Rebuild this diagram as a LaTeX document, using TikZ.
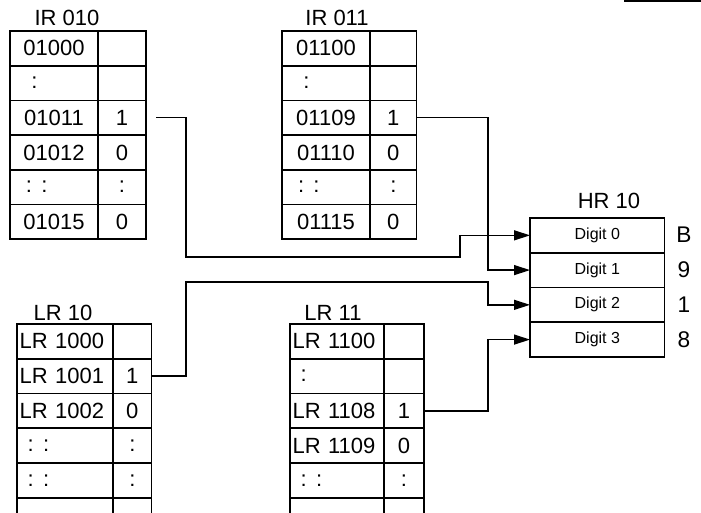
\documentclass[tikz,border=0pt]{standalone}
\usepackage{fontspec}
\setmainfont{Liberation Sans}
\usetikzlibrary{arrows.meta}
\begin{document}
\begin{tikzpicture}[x=0.75pt,y=-0.75pt,
	cell/.style={draw, line width=1.2pt, anchor=north west, minimum height=26pt, inner ysep=0pt, outer sep=0pt},
	wire/.style={line width=1pt},
	arr/.style={wire, -{Triangle[length=12pt,width=7.5pt]}},
	title/.style={font=\fontsize{16.5}{18}\selectfont}]
	\useasboundingbox (0,0) rectangle (701,512);
	\fontsize{16.5}{18}\selectfont
	
	% IR 010
	\node[title] (ir10) at (67,18) {IR 010};
	\foreach \l/\r/\al [count=\i] in {01000/{}/center, {\hspace*{8pt}:}/{}/left, 01011/1/center, 01012/0/center, {\hspace*{4pt}:\hspace{7pt}:}/:/left, 01015/0/center}{
		\node[cell, text width=50pt, inner xsep=8pt, align=\al] (ir10l\i) at (10,{31+(\i-1)*34.7}) {\l};
		\node[cell, minimum width=36pt] (ir10r\i) at (98,{31+(\i-1)*34.7}) {\r};
	}
	
	% IR 011
	\node[title] (ir11) at (337,18) {IR 011};
	\foreach \l/\r/\al [count=\i] in {01100/{}/center, {\hspace*{8pt}:}/{}/left, 01109/1/center, 01110/0/center, {\hspace*{4pt}:\hspace{7pt}:}/:/left, 01115/0/center}{
		\node[cell, text width=50pt, inner xsep=8pt, align=\al] (ir11l\i) at (282,{31+(\i-1)*34.7}) {\l};
		\node[cell, minimum width=35pt] (ir11r\i) at (370,{31+(\i-1)*34.7}) {\r};
	}
	
	% HR 10
	\node[title] (hr) at (609,201) {HR 10};
	\foreach \d/\v in {0/B,1/9,2/1,3/8}{
		\node[cell, minimum width=101pt, font=\fontsize{12}{14}\selectfont] (hr\d) at (530,{218+\d*34.75}) {Digit \d};
		\node[font=\fontsize{17}{19}\selectfont] (hv\d) at (684,{235+\d*34.75}) {\v};
	}
	
	% LR 10
	\node[title] (lr10) at (63,313) {LR 10};
	\foreach \l/\r [count=\i] in {LR 1000/{}, LR 1001/1, LR 1002/0, {\hspace*{6pt}:\hspace{7pt}:}/:, {\hspace*{6pt}:\hspace{7pt}:}/:, {}/{}}{
		\node[cell, text width=68pt, inner xsep=2pt, align=left] (lr10l\i) at (17,{324+(\i-1)*34.8}) {\l};
		\node[cell, minimum width=29pt] (lr10r\i) at (113,{324+(\i-1)*34.8}) {\r};
	}
	
	% LR 11
	\node[title] (lr11) at (333,313) {LR 11};
	\foreach \l/\r [count=\i] in {LR 1100/{}, {\hspace*{6pt}:}/{}, LR 1108/1, LR 1109/0, {\hspace*{6pt}:\hspace{7pt}:}/:, {}/{}}{
		\node[cell, text width=66.5pt, inner xsep=2pt, align=left] (lr11l\i) at (290,{324+(\i-1)*34.8}) {\l};
		\node[cell, minimum width=30pt] (lr11r\i) at (384,{324+(\i-1)*34.8}) {\r};
	}
	
	% connections to HR 10
	\draw[arr] ([xshift=7.5pt]ir10r3.east) -| (186,257) -| ([xshift=-52.5pt]hr0.west) -- (hr0.west);
	\draw[arr] (ir11r3.east) -| ([xshift=-31.5pt]hr1.west) -- (hr1.west);
	\draw[arr] (lr10r2.east) -| (186,282) -| ([xshift=-31.5pt]hr2.west) -- (hr2.west);
	\draw[arr] (lr11r3.east) -| ([xshift=-31.5pt]hr3.west) -- (hr3.west);
	
	\draw[line width=2pt] (624,1) -- (701,1);
\end{tikzpicture}
\end{document}
